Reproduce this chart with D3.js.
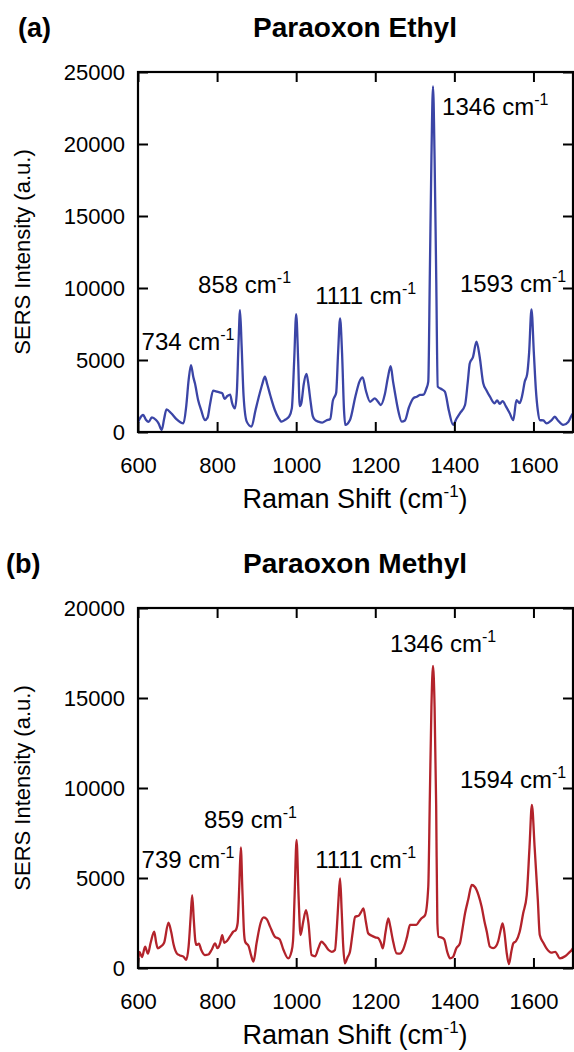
<!DOCTYPE html>
<html>
<head>
<meta charset="utf-8">
<script src="https://cdn.jsdelivr.net/npm/d3@7"></script>
<style>
  body { margin: 0; background: #fff; }
  svg { display: block; font-family: "Liberation Sans", Arial, sans-serif; }
</style>
</head>
<body>
<svg id="chart" width="574" height="1052"></svg>
<script>
// Paraoxon ethyl SERS spectrum
const ethylShift = [600, 604, 613, 620, 627, 635, 645, 652, 660, 666, 672, 684, 697, 715, 722, 728, 734, 740, 744, 752,
    760, 769, 776, 782, 790, 800, 806, 813, 819, 826, 833, 838, 845, 850, 854, 858, 862, 867, 875, 887,
    897, 907, 914, 921, 927, 935, 946, 955, 963, 972, 982, 989, 995, 1000, 1005, 1009, 1013, 1019, 1026, 1031,
    1036, 1042, 1048, 1056, 1066, 1076, 1086, 1093, 1097, 1101, 1106, 1111, 1116, 1121, 1124, 1136, 1150, 1160, 1168, 1176,
    1187, 1199, 1207, 1214, 1224, 1232, 1239, 1245, 1250, 1258, 1267, 1275, 1285, 1296, 1305, 1313, 1322, 1329, 1334, 1338,
    1342, 1346, 1350, 1354, 1358, 1366, 1376, 1386, 1397, 1405, 1414, 1427, 1434, 1439, 1447, 1456, 1464, 1473, 1481, 1490,
    1502, 1508, 1515, 1522, 1530, 1540, 1549, 1557, 1565, 1572, 1578, 1584, 1589, 1595, 1601, 1606, 1611, 1616, 1625, 1633,
    1645, 1654, 1662, 1675, 1688, 1697, 1700];
const ethylIntensity = [650, 900, 1180, 850, 700, 1020, 850, 600, 140, 900, 1575, 1300, 900, 600, 1800, 3600, 4650, 3800, 3380, 2220,
    1500, 830, 1000, 1900, 2870, 2800, 2750, 2690, 2300, 2500, 2600, 2000, 1640, 2800, 6000, 8470, 6000, 2500, 720, 370,
    1500, 2600, 3300, 3840, 3300, 2500, 1530, 1000, 720, 850, 1060, 1640, 5000, 8190, 5000, 1800, 2000, 3300, 4030, 3300,
    2200, 1100, 830, 720, 650, 800, 900, 2200, 2450, 2700, 5500, 7890, 5500, 1500, 490, 830, 2500, 3500, 3800, 2900,
    2100, 2340, 2100, 1875, 2600, 3800, 4580, 3500, 2690, 1500, 720, 800, 1700, 2340, 2450, 2570, 2600, 3000, 3500, 11000,
    19000, 24000, 19000, 11000, 3150, 3000, 2800, 1500, 490, 900, 1300, 1875, 3500, 4770, 5200, 6270, 5230, 3380, 2900, 2450,
    1990, 2200, 1950, 2150, 1800, 1300, 830, 2220, 2000, 2600, 3500, 4000, 5500, 8520, 5500, 3000, 1500, 830, 800, 600,
    800, 1060, 800, 490, 700, 1180, 1300];

// Paraoxon methyl SERS spectrum
const methylShift = [600, 604, 610, 618, 625, 632, 641, 646, 650, 658, 666, 677, 684, 690, 698, 706, 715, 722, 728, 733,
    737, 741, 745, 748, 754, 760, 769, 778, 786, 795, 801, 808, 813, 818, 825, 834, 841, 847, 852, 856,
    860, 864, 868, 871, 880, 886, 892, 900, 910, 918, 926, 934, 946, 958, 968, 980, 988, 992, 996, 1001,
    1006, 1011, 1018, 1025, 1031, 1039, 1048, 1056, 1064, 1072, 1082, 1090, 1098, 1103, 1107, 1111, 1115, 1119, 1123, 1130,
    1136, 1143, 1149, 1158, 1164, 1170, 1176, 1182, 1190, 1200, 1208, 1214, 1219, 1226, 1233, 1238, 1244, 1254, 1262, 1270,
    1280, 1288, 1296, 1304, 1311, 1317, 1326, 1334, 1338, 1342, 1346, 1350, 1354, 1357, 1360, 1366, 1374, 1382, 1389, 1396,
    1405, 1414, 1420, 1427, 1435, 1444, 1452, 1461, 1469, 1476, 1482, 1490, 1498, 1505, 1511, 1517, 1522, 1527, 1532, 1538,
    1544, 1549, 1556, 1565, 1574, 1583, 1590, 1596, 1603, 1611, 1616, 1625, 1633, 1645, 1655, 1667, 1680, 1690, 1697, 1700];
const methylIntensity = [300, 900, 600, 1180, 800, 1400, 2020, 1400, 1090, 1200, 1400, 2520, 2000, 1300, 815, 700, 630, 450, 1200, 2800,
    4050, 2700, 1500, 1280, 1350, 1000, 720, 750, 1000, 1370, 1100, 1400, 1830, 1400, 1500, 1800, 2020, 2100, 2500, 4500,
    6700, 4300, 2000, 1460, 1200, 700, 350, 1400, 2500, 2810, 2700, 2300, 1740, 1600, 1000, 540, 900, 1500, 4000, 7110,
    4000, 1830, 2600, 3220, 2500, 720, 650, 1100, 1460, 1300, 1000, 900, 1000, 2300, 3800, 4980, 3200, 1200, 260, 600,
    900, 2000, 2850, 2900, 3100, 3310, 2600, 1930, 1800, 1700, 1650, 1400, 1090, 2000, 2760, 2300, 1600, 815, 800, 1000,
    1700, 2390, 2400, 2400, 2600, 2760, 2940, 4500, 9500, 14500, 16780, 14500, 9000, 2500, 1740, 1700, 1600, 900, 540, 600,
    1100, 1370, 2100, 3040, 3800, 4610, 4500, 4050, 3400, 2600, 2020, 1180, 1100, 1200, 1500, 2100, 2480, 1900, 900, 220,
    900, 1370, 1500, 2000, 3040, 4050, 6700, 9060, 6700, 3800, 1830, 1400, 1090, 850, 900, 540, 650, 850, 1000, 1100];

const xTicks = [600, 800, 1000, 1200, 1400, 1600];
const ethylYTicks = [0, 5000, 10000, 15000, 20000, 25000];
const methylYTicks = [0, 5000, 10000, 15000, 20000];
const ethylPeakLabels = ["734", "858", "1111", "1346", "1593"];
const methylPeakLabels = ["739", "859", "1111", "1346", "1594"];

const svg = d3.select("#chart");
const plotLeft = 138;
const plotRight = 573;
const plotHeight = 360;

function drawPanel(cfg) {
    const T = cfg.top;
    const g = svg.append("g");

    const x = d3.scaleLinear().domain([600, 1700]).range([plotLeft, plotRight]);
    const y = d3.scaleLinear().domain([0, cfg.yMax]).range([T + plotHeight, T]);

    // Clip so the trace stays inside the frame
    g.append("clipPath")
        .attr("id", "clip-" + cfg.tag)
        .append("rect")
        .attr("x", plotLeft)
        .attr("y", T)
        .attr("width", plotRight - plotLeft)
        .attr("height", plotHeight);

    const points = cfg.shift.map((s, i) => ({shift: s, value: cfg.intensity[i]}));
    const line = d3.line()
        .x(d => x(d.shift))
        .y(d => y(d.value))
        .curve(d3.curveMonotoneX);

    g.append("path")
        .datum(points)
        .attr("clip-path", `url(#clip-${cfg.tag})`)
        .attr("fill", "none")
        .attr("stroke", cfg.color)
        .attr("stroke-width", 2.3)
        .attr("stroke-linejoin", "round")
        .attr("d", line);

    // Axes with inward ticks on all sides
    const tickLen = 10;
    const bottom = g.append("g")
        .attr("transform", `translate(0,${T + plotHeight})`)
        .call(d3.axisBottom(x).tickValues(xTicks).tickFormat(d3.format("d"))
            .tickSizeInner(-tickLen).tickSizeOuter(0).tickPadding(25));
    const left = g.append("g")
        .attr("transform", `translate(${plotLeft},0)`)
        .call(d3.axisLeft(y).tickValues(cfg.yTicks).tickFormat(d3.format("d"))
            .tickSizeInner(-tickLen).tickSizeOuter(0).tickPadding(13));
    const topAx = g.append("g")
        .attr("transform", `translate(0,${T})`)
        .call(d3.axisTop(x).tickValues(xTicks).tickSizeInner(-tickLen).tickSizeOuter(0).tickFormat(""));
    const right = g.append("g")
        .attr("transform", `translate(${plotRight},0)`)
        .call(d3.axisRight(y).tickValues(cfg.yTicks).tickSizeInner(-tickLen).tickSizeOuter(0).tickFormat(""));

    [bottom, left, topAx, right].forEach(a => {
        a.select(".domain").remove();
        a.selectAll("line").attr("stroke", "#000").attr("stroke-width", 2);
        a.selectAll("text")
            .attr("fill", "#000")
            .style("font-size", "22px")
            .style("font-family", '"Liberation Sans", Arial, sans-serif');
    });

    // Frame
    g.append("rect")
        .attr("x", plotLeft)
        .attr("y", T)
        .attr("width", plotRight - plotLeft)
        .attr("height", plotHeight)
        .attr("fill", "none")
        .attr("stroke", "#000")
        .attr("stroke-width", 2.2);

    // Titles
    g.append("text")
        .attr("x", cfg.tagX)
        .attr("y", T - 35)
        .attr("font-weight", "bold")
        .attr("font-size", 27)
        .text(`(${cfg.tag})`);

    g.append("text")
        .attr("x", 355)
        .attr("y", T - 35)
        .attr("text-anchor", "middle")
        .attr("font-weight", "bold")
        .attr("font-size", 28)
        .text(cfg.title);

    // Axis labels
    const xl = g.append("text")
        .attr("x", 355)
        .attr("y", T + plotHeight + 76)
        .attr("text-anchor", "middle")
        .attr("font-size", 27)
        .text("Raman Shift (cm");
    xl.append("tspan").attr("dy", -11).attr("font-size", 17).text("-1");
    xl.append("tspan").attr("dy", 11).text(")");

    g.append("text")
        .attr("transform", `translate(30,${T + plotHeight / 2}) rotate(-90)`)
        .attr("text-anchor", "middle")
        .attr("font-size", 22)
        .text("SERS Intensity (a.u.)");

    // Peak annotations, anchored in data units
    cfg.labels.forEach((lab, i) => {
        const [sx, sy] = cfg.labelAt[i];
        const t = g.append("text")
            .attr("x", x(sx))
            .attr("y", y(sy))
            .attr("font-size", 24)
            .text(lab + " cm");
        t.append("tspan").attr("dy", -10).attr("font-size", 16).text("-1");
    });
}

drawPanel({
    tag: "a", tagX: 18, top: 72, title: "Paraoxon Ethyl",
    shift: ethylShift, intensity: ethylIntensity,
    yMax: 25000, yTicks: ethylYTicks, color: "#3b45a6",
    labels: ethylPeakLabels,
    labelAt: [[609, 5690], [752, 9670], [1048, 8890], [1369, 22010], [1414, 9720]]
});

drawPanel({
    tag: "b", tagX: 6, top: 608, title: "Paraoxon Methyl",
    shift: methylShift, intensity: methylIntensity,
    yMax: 20000, yTicks: methylYTicks, color: "#b3232b",
    labels: methylPeakLabels,
    labelAt: [[609, 5556], [767, 7778], [1048, 5556], [1237, 17570], [1414, 10000]]
});
</script>
</body>
</html>
